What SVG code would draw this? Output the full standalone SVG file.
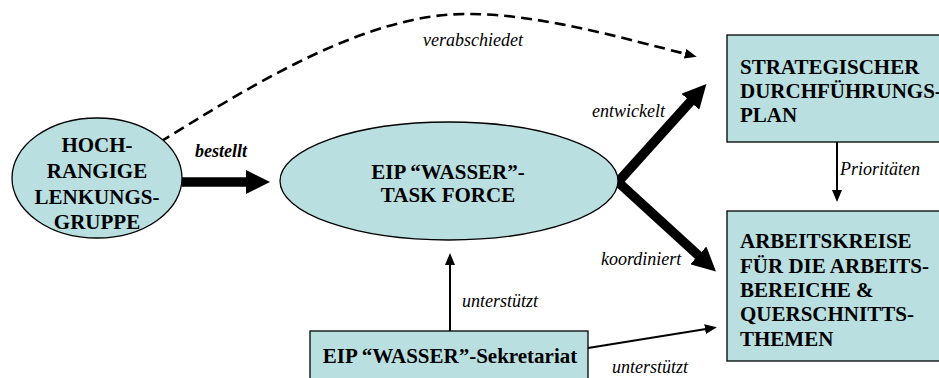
<svg xmlns="http://www.w3.org/2000/svg" width="939" height="378" viewBox="0 0 939 378">
<style>
.node{fill:#B9DFE1;stroke:#000;stroke-width:1.3}
text{font-family:'Liberation Serif','Times New Roman',serif;fill:#000}
.t{font-weight:bold;font-size:21px}
.c{text-anchor:middle}
.lbl{font-style:italic;font-size:18px}
.thick{stroke:#000;stroke-width:9.5;fill:none}
.thin{stroke:#000;stroke-width:2;fill:none}
.dash{stroke:#000;stroke-width:2.6;fill:none;stroke-dasharray:11 6}
</style>
<defs>
<marker id="big" markerUnits="userSpaceOnUse" markerWidth="24" markerHeight="24" viewBox="0 0 24 24" refX="1" refY="12" orient="auto">
<path d="M0,0 L24,12 L0,24 z" fill="#000"/>
</marker>
<marker id="small" markerUnits="userSpaceOnUse" markerWidth="12" markerHeight="10" viewBox="0 0 12 10" refX="1" refY="5" orient="auto">
<path d="M0,0 L12,5 L0,10 z" fill="#000"/>
</marker>
</defs>
<rect width="939" height="378" fill="#fff"/>
<g id="connectors">
<path class="dash" d="M160,142 C245,90 365,12 470,14 C540,14 630,40 686,54" marker-end="url(#small)"/>
<line class="thick" x1="182" y1="182" x2="247" y2="182" marker-end="url(#big)"/>
<line class="thick" x1="618" y1="182" x2="691" y2="101" marker-end="url(#big)"/>
<line class="thick" x1="618" y1="182" x2="699" y2="256" marker-end="url(#big)"/>
<line class="thin" x1="837" y1="142" x2="837" y2="191" marker-end="url(#small)"/>
<line class="thin" x1="450" y1="331" x2="450" y2="264" marker-end="url(#small)"/>
<line class="thin" x1="588" y1="348" x2="706" y2="329" marker-end="url(#small)"/>
<text class="lbl" x="423" y="46">verabschiedet</text>
<text class="lbl" x="195" y="157" font-weight="bold">bestellt</text>
<text class="lbl" x="592" y="117">entwickelt</text>
<text class="lbl" x="601" y="265">koordiniert</text>
<text class="lbl" x="840" y="175">Prioritäten</text>
<text class="lbl" x="462" y="307">unterstützt</text>
<text class="lbl" x="612" y="373">unterstützt</text>
</g>
<g id="lenkungsgruppe">
<ellipse class="node" cx="97" cy="178" rx="85" ry="60"/>
<text class="t c" x="97" y="152">HOCH-</text>
<text class="t c" x="97" y="178">RANGIGE</text>
<text class="t c" x="97" y="204">LENKUNGS-</text>
<text class="t c" x="97" y="229">GRUPPE</text>
</g>
<g id="taskforce">
<ellipse class="node" cx="449" cy="181" rx="169" ry="59"/>
<text class="t c" x="448" y="179">EIP “WASSER”-</text>
<text class="t c" x="448" y="202">TASK FORCE</text>
</g>
<g id="plan">
<rect class="node" x="727" y="35" width="220" height="107"/>
<text class="t" x="740" y="74">STRATEGISCHER</text>
<text class="t" x="740" y="98">DURCHFÜHRUNGS-</text>
<text class="t" x="740" y="122">PLAN</text>
</g>
<g id="arbeitskreise">
<rect class="node" x="727" y="211" width="220" height="150"/>
<text class="t" x="740" y="248">ARBEITSKREISE</text>
<text class="t" x="740" y="273">FÜR DIE ARBEITS-</text>
<text class="t" x="740" y="297">BEREICHE &amp;</text>
<text class="t" x="740" y="321">QUERSCHNITTS-</text>
<text class="t" x="740" y="346">THEMEN</text>
</g>
<g id="sekretariat">
<rect class="node" x="310" y="331" width="278" height="60"/>
<text class="t c" x="450" y="363">EIP “WASSER”-Sekretariat</text>
</g>
</svg>
